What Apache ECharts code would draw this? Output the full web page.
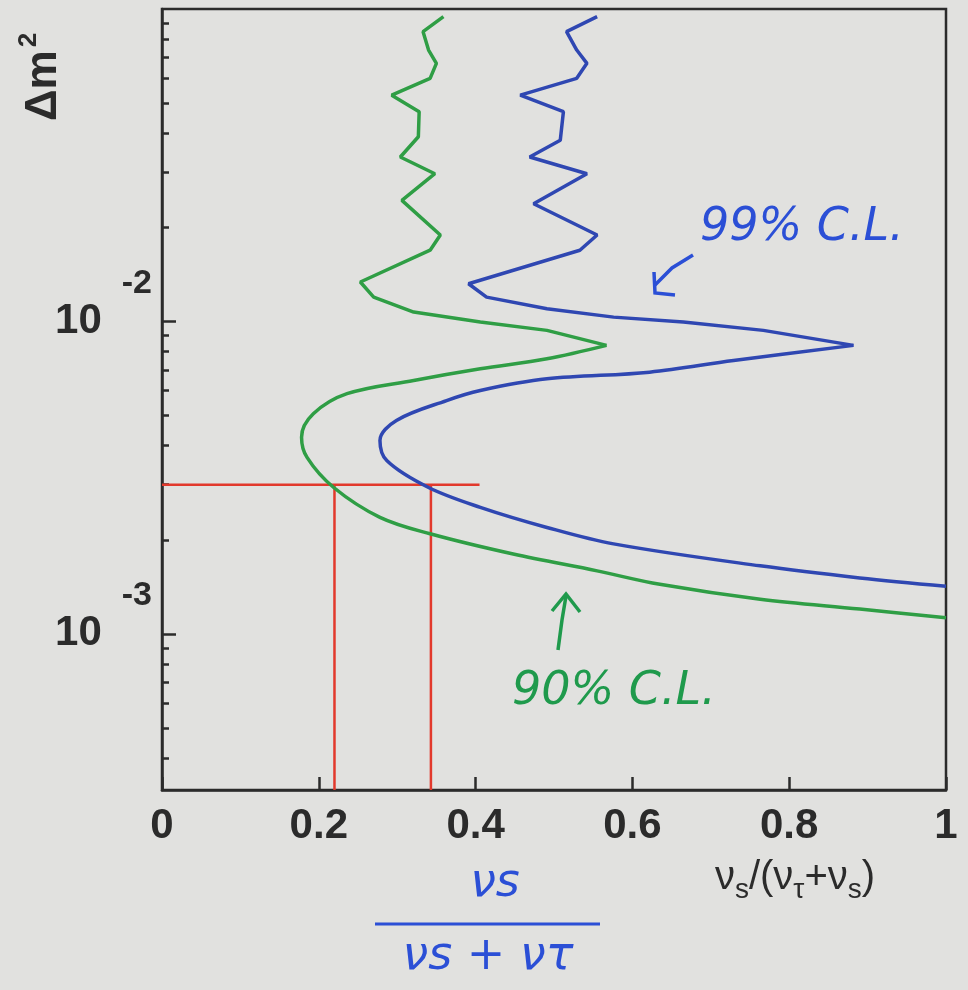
<!DOCTYPE html>
<html>
<head>
<meta charset="utf-8">
<script src="https://cdn.jsdelivr.net/npm/echarts@6/dist/echarts.min.js"></script>
<style>
html, body { margin: 0; padding: 0; background: #e1e1df; }
#main { width: 968px; height: 990px; }
</style>
</head>
<body>
<div id="main"></div>
<script>
// 90% C.L. contour (green), read from top to bottom
var cl90X = [0.359, 0.333, 0.340, 0.350, 0.342, 0.293, 0.328, 0.327, 0.304, 0.348, 0.306, 0.355,
    0.342, 0.253, 0.270, 0.321, 0.406, 0.491, 0.567, 0.491, 0.406, 0.321, 0.236, 0.193, 0.178,
    0.185, 0.219, 0.278, 0.342, 0.448, 0.555, 0.635, 0.763, 0.890, 1.0];
var cl90Dm2 = [0.0945, 0.0846, 0.0739, 0.0670, 0.0600, 0.0530, 0.0469, 0.0390, 0.0336, 0.0297, 0.0244, 0.0189,
    0.0169, 0.01337, 0.01196, 0.01071, 0.00995, 0.00936, 0.00838, 0.00759, 0.00705, 0.00647, 0.00587, 0.00506, 0.00426,
    0.00367, 0.00294, 0.00236, 0.00209, 0.00180, 0.00159, 0.00144, 0.00129, 0.00120, 0.001125];

// 99% C.L. contour (blue)
var cl99X = [0.555, 0.516, 0.529, 0.542, 0.529, 0.457, 0.512, 0.508, 0.469, 0.542, 0.474, 0.555,
    0.533, 0.391, 0.414, 0.491, 0.576, 0.665, 0.767, 0.882, 0.729, 0.622, 0.491, 0.406, 0.363,
    0.299, 0.278, 0.287, 0.340, 0.406, 0.491, 0.576, 0.763, 0.890, 1.0];
var cl99Dm2 = [0.0945, 0.0846, 0.0739, 0.0670, 0.0600, 0.0530, 0.0469, 0.0380, 0.0336, 0.0297, 0.0238, 0.0189,
    0.0169, 0.0132, 0.01196, 0.01098, 0.01032, 0.00995, 0.00936, 0.00838, 0.00750, 0.00688, 0.00655, 0.00601, 0.00558,
    0.00482, 0.00416, 0.00358, 0.00294, 0.00254, 0.00219, 0.00194, 0.00165, 0.00151, 0.00142];

// red reading lines
var cutDm2 = 0.003;
var cutX = [0.22, 0.343];
var cutXEnd = 0.405;

// axes
var xTicks = [0, 0.2, 0.4, 0.6, 0.8, 1];
var yMajor = [0.001, 0.01];
var yMinor = [0.0004, 0.0005, 0.0006, 0.0007, 0.0008, 0.0009,
    0.002, 0.003, 0.004, 0.005, 0.006, 0.007, 0.008, 0.009,
    0.02, 0.03, 0.04, 0.05, 0.06, 0.07, 0.08, 0.09];
var yMin = Math.pow(10, -3.5);
var yMax = 0.1;

var ink = '#2b2b2b';
var green = '#2f9e45';
var blue = '#2f47b2';
var red = '#e2392c';
var font = 'Liberation Sans, Arial, sans-serif';
var hand = 'DejaVu Sans, sans-serif';

function pairs(xs, ys) {
    return xs.map(function (x, i) { return [x, ys[i]]; });
}

// jagged part down to the peak near 8e-3, smooth part below it
function contour(xs, ys, color) {
    var pts = pairs(xs, ys);
    var peak = -1;
    for (var i = 0; i < xs.length; i++) {
        if (ys[i] < 0.0095 && ys[i] > 0.005 && (peak < 0 || xs[i] > xs[peak])) peak = i;
    }
    return [{
        type: 'line', data: pts.slice(0, peak + 1), symbol: 'none',
        lineStyle: { color: color, width: 3.5 }, z: 3
    }, {
        type: 'line', data: pts.slice(peak), symbol: 'none', smooth: 0.35,
        lineStyle: { color: color, width: 3.5 }, z: 3
    }];
}

var redLines = [
    [[0, cutDm2], [cutXEnd, cutDm2]],
    [[cutX[0], cutDm2], [cutX[0], yMin]],
    [[cutX[1], cutDm2], [cutX[1], yMin]]
];

var series = redLines.map(function (d) {
    return {
        type: 'line', data: d, symbol: 'none', silent: true,
        lineStyle: { color: red, width: 2.5 }, z: 2
    };
});
series = series.concat(contour(cl90X, cl90Dm2, green), contour(cl99X, cl99Dm2, blue));

var myChart = echarts.init(document.getElementById('main'));
myChart.setOption({
    backgroundColor: '#e1e1df',
    animation: false,
    grid: {
        left: 162, right: 22, top: 9, bottom: 200,
        show: true, borderColor: ink, borderWidth: 2.5,
        outerBoundsMode: 'none'
    },
    xAxis: {
        type: 'value', min: 0, max: 1, interval: 0.2,
        axisLine: { lineStyle: { color: ink, width: 2.5 } },
        axisTick: { inside: true, length: 13, lineStyle: { color: ink, width: 2.5 } },
        axisLabel: {
            margin: 15, fontSize: 42, fontWeight: 'bold', color: ink, fontFamily: font,
            formatter: function (v) { return String(+v.toFixed(1)); }
        },
        splitLine: { show: false }
    },
    yAxis: [{
        type: 'log', logBase: 10, min: yMin, max: yMax,
        axisLine: { lineStyle: { color: ink, width: 2.5 } },
        axisTick: { inside: true, length: 14, customValues: yMajor, lineStyle: { color: ink, width: 2.5 } },
        axisLabel: {
            customValues: yMajor, margin: 10, color: ink,
            formatter: function (v) {
                return '{b|10}{s|' + Math.round(Math.log10(v)) + '}';
            },
            rich: {
                b: { fontSize: 42, fontWeight: 'bold', fontFamily: font, color: ink },
                s: { fontSize: 34, fontWeight: 'bold', fontFamily: font, color: ink, padding: [0, 0, 76, 20] }
            }
        },
        splitLine: { show: false }
    }, {
        type: 'log', logBase: 10, min: yMin, max: yMax, position: 'left', offset: 0,
        axisLine: { show: false },
        axisTick: { inside: true, length: 7, customValues: yMinor, lineStyle: { color: ink, width: 2.5 } },
        axisLabel: { show: false },
        splitLine: { show: false }
    }],
    graphic: [
        {
            type: 'text', x: 44, y: 77, rotation: Math.PI / 2,
            style: {
                text: '{a|Δm}{s|2}', align: 'center', verticalAlign: 'middle',
                rich: {
                    a: { fontSize: 44, fontWeight: 'bold', fontFamily: font, fill: ink },
                    s: { fontSize: 26, fontWeight: 'bold', fontFamily: font, fill: ink, padding: [0, 0, 30, 3] }
                }
            }
        },
        {
            type: 'text', x: 795, y: 878,
            style: {
                text: '{n|ν}{b|s}{n|/(ν}{b|τ}{n|+ν}{b|s}{n|)}', align: 'center', verticalAlign: 'middle',
                rich: {
                    n: { fontSize: 40, fontFamily: font, fill: ink },
                    b: { fontSize: 28, fontFamily: font, fill: ink, padding: [24, 0, 0, 0] }
                }
            }
        },
        // handwritten fraction under the axis
        {
            type: 'text', x: 495, y: 884,
            style: { text: 'νs', align: 'center', verticalAlign: 'middle', fontSize: 46, fontStyle: 'italic', fontFamily: hand, fill: '#2b4fd6' }
        },
        {
            type: 'line', shape: { x1: 375, y1: 924, x2: 600, y2: 924 },
            style: { stroke: '#2b4fd6', lineWidth: 3 }
        },
        {
            type: 'text', x: 488, y: 957,
            style: { text: 'νs + ντ', align: 'center', verticalAlign: 'middle', fontSize: 46, fontStyle: 'italic', fontFamily: hand, fill: '#2b4fd6' }
        },
        // 99% note
        {
            type: 'text', x: 700, y: 228,
            style: { text: '99% C.L.', align: 'left', verticalAlign: 'middle', fontSize: 46, fontStyle: 'italic', fontFamily: hand, fill: '#2b4fd6' }
        },
        {
            type: 'polyline', shape: { points: [[693, 255], [672, 268], [655, 285]] },
            style: { stroke: '#2b4fd6', lineWidth: 3.5, fill: null }
        },
        {
            type: 'polyline', shape: { points: [[654, 272], [655, 293], [675, 295]] },
            style: { stroke: '#2b4fd6', lineWidth: 3.5, fill: null }
        },
        // 90% note
        {
            type: 'text', x: 512, y: 692,
            style: { text: '90% C.L.', align: 'left', verticalAlign: 'middle', fontSize: 46, fontStyle: 'italic', fontFamily: hand, fill: '#1f9a4c' }
        },
        {
            type: 'polyline', shape: { points: [[558, 650], [562, 620], [566, 596]] },
            style: { stroke: '#1f9a4c', lineWidth: 3.5, fill: null }
        },
        {
            type: 'polyline', shape: { points: [[552, 611], [566, 594], [580, 612]] },
            style: { stroke: '#1f9a4c', lineWidth: 3.5, fill: null }
        }
    ],
    series: series
});
</script>
</body>
</html>
